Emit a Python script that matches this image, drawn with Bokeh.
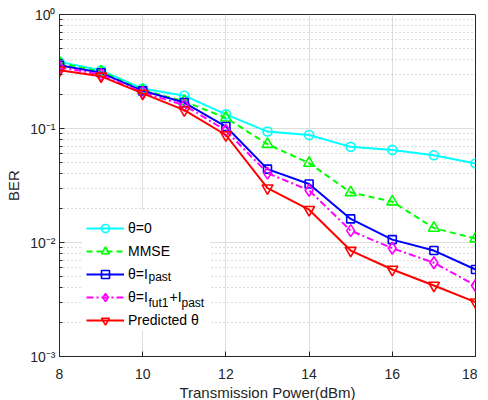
from bokeh.plotting import figure
from bokeh.models import (FixedTicker, CustomJSTickFormatter, Legend, LegendItem, Label,
                          Range1d, BoxAnnotation)
from bokeh.embed import file_html
from bokeh.resources import INLINE

# ---------------- data ----------------
power = [8, 9, 10, 11, 12, 13, 14, 15, 16, 17, 18]
ber_theta0 = [0.384, 0.324, 0.224, 0.194, 0.133, 0.094, 0.0877, 0.069, 0.0649, 0.0583, 0.0493]
ber_mmse = [0.375, 0.315, 0.217, 0.173, 0.124, 0.0728, 0.0497, 0.0275, 0.0228, 0.0134, 0.0108]
ber_past = [0.359, 0.308, 0.214, 0.169, 0.104, 0.044, 0.0326, 0.0161, 0.0106, 0.0085, 0.0058]
ber_fut_past = [0.345, 0.297, 0.207, 0.160, 0.096, 0.0406, 0.0287, 0.0127, 0.0089, 0.00665, 0.0042]
ber_pred = [0.325, 0.287, 0.203, 0.145, 0.0877, 0.030, 0.0194, 0.0085, 0.0058, 0.0042, 0.0030]

x_ticks = [8, 10, 12, 14, 16, 18]
y_ticks = [1e-3, 1e-2, 1e-1, 1.0]
y_minor = [m * d for d in [1e-3, 1e-2, 1e-1] for m in range(2, 10)]

FONT = "Liberation Sans"
AX = "#262626"

p = figure(frame_width=416, frame_height=342, y_axis_type="log",
           x_range=Range1d(8, 18), y_range=Range1d(1e-3, 1.0),
           output_backend="svg", toolbar_location=None,
           min_border_left=59, min_border_top=14, min_border_right=2, min_border_bottom=2)
p.background_fill_color = "white"
p.outline_line_color = AX
p.outline_line_width = 1

xt = FixedTicker(ticks=x_ticks)
yt = FixedTicker(ticks=y_ticks, minor_ticks=y_minor)
p.xaxis.ticker = xt
p.yaxis.ticker = yt

sup_js = """
const sup = {"-":"\u207b","0":"\u2070","1":"\u00b9","2":"\u00b2","3":"\u00b3","4":"\u2074","5":"\u2075","6":"\u2076","7":"\u2077","8":"\u2078","9":"\u2079"};
const e = Math.round(Math.log10(tick));
return "10" + String(e).split("").map(c => sup[c]).join("");
"""
p.yaxis.formatter = CustomJSTickFormatter(code=sup_js)

for ax in [p.xaxis[0], p.yaxis[0]]:
    ax.axis_line_color = AX
    ax.major_tick_line_color = AX
    ax.minor_tick_line_color = AX
    ax.major_tick_in = 5
    ax.major_tick_out = 0
    ax.minor_tick_in = 3
    ax.minor_tick_out = 0
    ax.major_label_text_font = FONT
    ax.major_label_text_font_size = "14px"
    ax.major_label_text_color = AX
    ax.axis_label_text_font = FONT
    ax.axis_label_text_font_size = "15px"
    ax.axis_label_text_font_style = "normal"
    ax.axis_label_text_color = AX

p.xaxis.axis_label = "Transmission Power(dBm)"
p.yaxis.axis_label = "BER"
p.xaxis.major_label_standoff = 12
p.xaxis.axis_label_standoff = 2
p.yaxis.major_label_standoff = 4
p.yaxis.axis_label_standoff = 5
p.xaxis[0].minor_tick_line_color = None

p.xgrid.grid_line_color = "#dedede"
p.xgrid.grid_line_width = 1
p.ygrid.grid_line_color = "#dedede"
p.ygrid.grid_line_width = 1
p.ygrid.minor_grid_line_color = "#b8b8b8"
p.ygrid.minor_grid_line_dash = "1 3"

# white legend background (under the data, above the grid)
p.add_layout(BoxAnnotation(left=23, right=151, bottom=26, top=146,
                           left_units="screen", right_units="screen",
                           bottom_units="screen", top_units="screen",
                           fill_color="white", fill_alpha=1.0, line_alpha=0.0,
                           level="underlay", editable=False))

series = [
    (ber_theta0, "#00ffff", "solid", "circle", 9),
    (ber_mmse, "#00ff00", "6 4", "triangle", 11),
    (ber_past, "#0000ff", "solid", "square", 8),
    (ber_fut_past, "#ff00ff", "7 3 2 3", "diamond", 12),
    (ber_pred, "#ff0000", "solid", "inverted_triangle", 11),
]
labels = ["\u03b8=0", "MMSE", "\u03b8=I", "\u03b8=I", "Predicted \u03b8"]
items = []
for (ys, col, dash, mk, sz), lab in zip(series, labels):
    r1 = p.line(power, ys, line_color=col, line_width=2, line_dash=dash)
    r2 = p.scatter(power, ys, marker=mk, size=sz, line_color=col, line_width=1.6,
                   fill_color=None)
    items.append(LegendItem(label=lab, renderers=[r1, r2]))

legend = Legend(items=items, location=(19, 18), padding=8, spacing=3,
                glyph_width=38, glyph_height=20, label_height=20, label_standoff=4,
                label_text_font=FONT, label_text_font_size="14px", label_text_color="black",
                background_fill_color="white", background_fill_alpha=0.0,
                border_line_alpha=0.0)
p.add_layout(legend)

# subscripts for legend labels (screen units, relative to the plot frame)
def lab(x, y, t, size):
    p.add_layout(Label(x=x, y=y, x_units="screen", y_units="screen", text=t,
                       text_font=FONT, text_font_size=size, text_color="black",
                       text_baseline="middle", level="overlay"))

lab(89, 80, "past", "12px")
lab(89, 54, "fut1", "12px")
lab(110, 60, "+I", "14px")
lab(122, 54, "past", "12px")

open("out.html", "w").write(file_html(p, INLINE))
